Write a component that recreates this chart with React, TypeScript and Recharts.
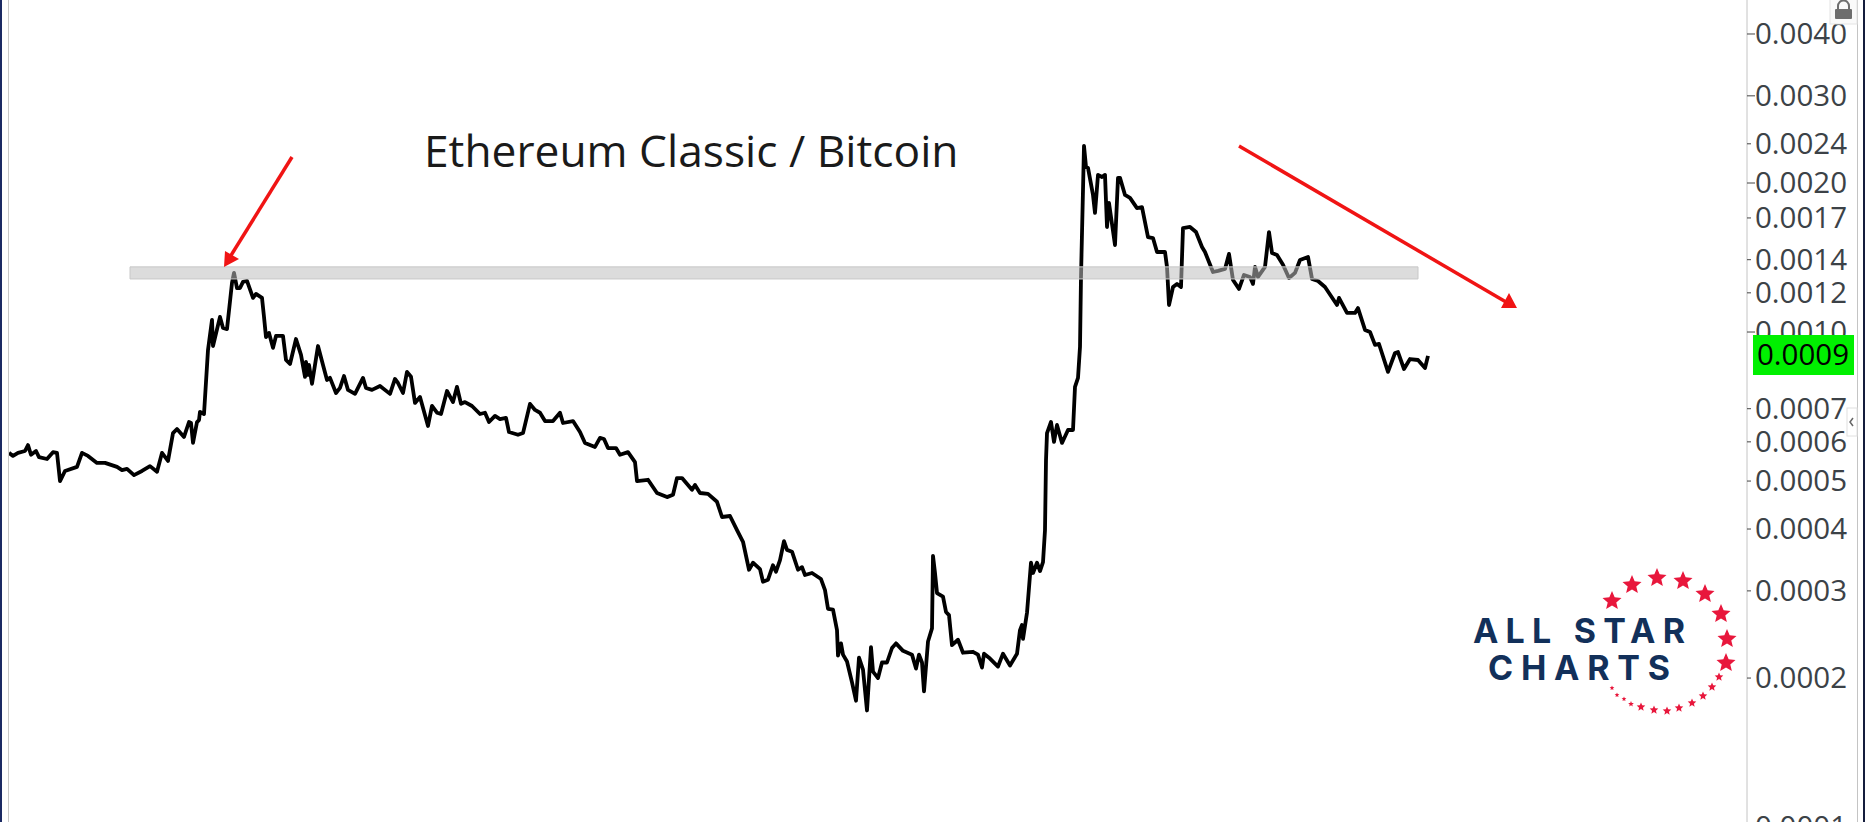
import { LineChart, Line, XAxis, YAxis, ReferenceArea } from 'recharts'

const W = 1865
const H = 860

// sessions and ETC/BTC closes
const sessions = [
  9, 13, 18, 25, 28, 31, 36, 39, 47, 53, 57, 60, 65, 77, 82, 88, 97, 105, 117, 122, 127, 134, 142, 150, 157, 162, 168, 173, 177, 184, 189, 191, 193, 197, 199, 200, 204, 208, 212, 213, 220, 223, 227, 232, 234, 237,
  240, 243, 247, 253, 256, 262, 264, 266, 269, 273, 276, 283, 286, 290, 296, 301, 305, 306, 308, 309, 312, 318, 323, 327, 330, 336, 340, 344, 348, 355, 363, 366, 372, 380, 390, 395, 398, 403, 407, 411, 415, 420, 428, 432, 437, 441, 447, 453, 457, 461, 465, 472, 480, 485, 489, 495, 500, 506, 509, 518, 523, 530, 535,
  540, 545, 553, 560, 563, 573, 580, 585, 595, 600, 604, 608, 616, 620, 628, 635, 637, 648, 657, 667, 673, 677, 682, 692, 695, 700, 708, 717, 722, 730, 737, 743, 749, 753, 760, 763, 768, 773, 776, 780, 784, 787, 792, 798, 802, 805, 812,
  821, 825, 828, 833, 837, 838, 841, 843, 847, 852, 856, 859, 863, 867, 871, 873, 878, 882, 887, 892, 896, 903, 912, 916, 919, 922, 924, 928, 932, 933, 935, 937, 943, 946, 949, 952, 958, 963, 973, 978, 982, 984, 990, 998, 1003, 1010, 1017, 1020, 1022, 1023, 1027, 1031, 1033, 1037, 1040, 1043, 1045, 1046, 1047, 1051, 1054, 1057, 1062, 1068, 1073, 1075, 1078, 1080, 1081,
  1083, 1084, 1086, 1088, 1093, 1095, 1098, 1102, 1105, 1107, 1109, 1115, 1118, 1120, 1125, 1130, 1137, 1142, 1148, 1153, 1157, 1165, 1167, 1169, 1173, 1177, 1181, 1183, 1190, 1196, 1202, 1205, 1213, 1218, 1225, 1229, 1233, 1239, 1244, 1250, 1253, 1255, 1258, 1265, 1269, 1272, 1277, 1283, 1289, 1295, 1300, 1308, 1312, 1318, 1325, 1337, 1339, 1347, 1355, 1358, 1365, 1370, 1375, 1379, 1388, 1395, 1398, 1404, 1410, 1418, 1425, 1428,
]

const ratio = [
  0.00057, 0.000562, 0.00057, 0.000575, 0.000591, 0.000565, 0.000575, 0.000559, 0.000554, 0.000572, 0.00057, 0.0005, 0.000524, 0.000534, 0.00057, 0.000562, 0.000544, 0.000544, 0.000534, 0.000526, 0.000529, 0.000514, 0.000524, 0.000536, 0.000522, 0.00057, 0.000549, 0.000625, 0.000637, 0.000614, 0.000658, 0.000655, 0.000597, 0.000658, 0.000664, 0.00069, 0.000683, 0.00092, 0.001058, 0.000937, 0.001073, 0.001019, 0.001014, 0.001257, 0.001317, 0.001227,
  0.001227, 0.001263, 0.001268, 0.001172, 0.001194, 0.001172, 0.001073, 0.000977, 0.000996, 0.000929, 0.000982, 0.000982, 0.000878, 0.000862, 0.000968, 0.000899, 0.000812, 0.00087, 0.000819, 0.000858, 0.000786, 0.000937, 0.000858, 0.0008, 0.000808, 0.000753, 0.000771, 0.000815, 0.000764, 0.00075, 0.000808, 0.000771, 0.000764, 0.000778, 0.00075, 0.000804, 0.000789, 0.000753, 0.000831, 0.000812, 0.000719, 0.000739, 0.000646, 0.000709, 0.000687, 0.000683, 0.00076, 0.000722, 0.000775, 0.000716, 0.000722, 0.000709, 0.000683, 0.000687, 0.000658, 0.000677, 0.000667, 0.000671, 0.000628, 0.00062, 0.000625, 0.000716, 0.000696,
  0.000687, 0.000661, 0.000661, 0.000687, 0.000655, 0.000661, 0.000628, 0.000597, 0.000586, 0.000611, 0.000608, 0.000583, 0.000583, 0.000565, 0.000572, 0.000546, 0.0005, 0.000503, 0.000473, 0.000464, 0.000469, 0.000507, 0.000507, 0.00048, 0.000491, 0.000473, 0.000471, 0.000454, 0.000423, 0.000425, 0.000398, 0.000377, 0.000331, 0.000342, 0.000332, 0.000313, 0.000316, 0.000338, 0.000328, 0.000346, 0.000378, 0.000363, 0.00036, 0.000331, 0.000335, 0.000323, 0.000326,
  0.000317, 0.000301, 0.000276, 0.000275, 0.00025, 0.000222, 0.000235, 0.000223, 0.000216, 0.000196, 0.00018, 0.00022, 0.000208, 0.000172, 0.000231, 0.000206, 0.0002, 0.000215, 0.000215, 0.00023, 0.000235, 0.000227, 0.000223, 0.000209, 0.000223, 0.000215, 0.000188, 0.000237, 0.000252, 0.000353, 0.000326, 0.000297, 0.000292, 0.000272, 0.000268, 0.000233, 0.000239, 0.000225, 0.000226, 0.000223, 0.00021, 0.000224, 0.000219, 0.000211, 0.000224, 0.000212, 0.000224, 0.00025, 0.000256, 0.00024, 0.000271, 0.000342, 0.000326, 0.000342, 0.000329, 0.000343, 0.000398, 0.000551, 0.000625, 0.000658, 0.0006, 0.000649, 0.000597, 0.000634, 0.000634, 0.000775, 0.000808, 0.000933, 0.001292,
  0.001936, 0.002377, 0.002155, 0.002145, 0.001892, 0.00174, 0.002077, 0.002057, 0.002077, 0.00163, 0.001823, 0.001499, 0.002048, 0.002048, 0.001892, 0.001866, 0.00178, 0.001788, 0.001555, 0.001548, 0.001451, 0.001451, 0.001354, 0.001134, 0.001233, 0.001251, 0.001233, 0.001622, 0.00163, 0.001592, 0.001485, 0.001451, 0.001322, 0.001329, 0.001341, 0.001438, 0.001274, 0.001222, 0.001304, 0.001292, 0.001251, 0.001354, 0.001292, 0.001354, 0.001592, 0.001445, 0.001431, 0.001367, 0.001286, 0.001317, 0.001398, 0.001418, 0.00128, 0.001268, 0.001233, 0.001134, 0.001172, 0.001093, 0.001093, 0.001118, 0.00101, 0.001, 0.000942, 0.000946, 0.000831, 0.000907, 0.000911, 0.000842, 0.000882, 0.000878, 0.000846, 0.000895,
]

const axisTicks = [0.004, 0.003, 0.0024, 0.002, 0.0017, 0.0014, 0.0012, 0.001, 0.0007, 0.0006, 0.0005, 0.0004, 0.0003, 0.0002, 0.0001]
const majorTicks = [0.004, 0.003, 0.002, 0.001]

const chartData = sessions.map((session, i) => ({ session, ratio: ratio[i] }))

// logo stars: cx, cy, outer radius
const logoStars = [
  [1612, 601, 10], [1632, 585, 10], [1657, 578, 10], [1683, 581, 10], [1705, 594, 10], [1721, 614, 10], [1727, 639, 10], [1726, 663, 10],
  [1719, 677, 4.5], [1712, 687, 4.5], [1703, 696, 4.5], [1692, 703, 4.5], [1679, 708, 4.5], [1667, 711, 4.5], [1654, 710, 4.5], [1641, 707, 4.5],
  [1631, 704, 3], [1624, 699, 2.5], [1617, 695, 2.5], [1612, 688, 2.5],
]

function starPoints(cx: number, cy: number, r: number) {
  const pts: string[] = []
  for (let i = 0; i < 10; i++) {
    const a = -Math.PI / 2 + (i * Math.PI) / 5
    const rr = i % 2 === 0 ? r : r * 0.45
    pts.push(`${cx + rr * Math.cos(a)},${cy + rr * Math.sin(a)}`)
  }
  return pts.join(' ')
}

function PriceTick({ x, y, payload }: any) {
  const long = majorTicks.includes(payload.value)
  return (
    <g>
      <line x1={1747} x2={long ? 1755 : 1751} y1={y} y2={y} stroke="#444" />
      <text x={x} y={y} dy={10} fontSize={29.5} fontFamily="'Open Sans'" fill="#3c4247">
        {payload.value.toFixed(4)}
      </text>
    </g>
  )
}

export default function App() {
  return (
    <div style={{ position: 'absolute', left: 0, top: 0, width: W, height: 822, overflow: 'hidden', background: '#fff' }}>
      <LineChart width={W} height={H} data={chartData} margin={{ top: 0, right: 0, bottom: 0, left: 0 }}>
        <XAxis dataKey="session" type="number" domain={[0, 1747]} hide />
        <YAxis
          orientation="right"
          width={118}
          scale="log"
          domain={[0.0000858, 0.004685]}
          ticks={axisTicks}
          interval={0}
          tick={<PriceTick />}
          tickLine={false}
          tickSize={8}
          tickMargin={0}
          axisLine={{ stroke: '#c4c4c4' }}
          allowDataOverflow
        />
        <Line
          dataKey="ratio"
          type="linear"
          stroke="#000"
          strokeWidth={3.8}
          strokeLinejoin="round"
          dot={false}
          isAnimationActive={false}
        />
        <ReferenceArea
          x1={130}
          x2={1418}
          y1={0.001354}
          y2={0.00128}
          fill="rgb(190,190,190)"
          fillOpacity={0.54}
          stroke="#c8c8c8"
          zIndex={700}
        />
      </LineChart>

      <svg width={W} height={822} style={{ position: 'absolute', left: 0, top: 0 }}>
        {/* window frame */}
        <rect x={0} y={0} width={2} height={822} fill="#1b2a63" />
        <line x1={8.5} x2={8.5} y1={0} y2={822} stroke="#c8c8c8" />
        <line x1={1857.5} x2={1857.5} y1={0} y2={822} stroke="#c4c4c4" />
        <rect x={1863} y={0} width={2} height={822} fill="#141c3c" />

        <text x={424} y={167} fontSize={44.3} fontFamily="'Open Sans'" fill="#1a1a1a">
          Ethereum Classic / Bitcoin
        </text>

        {/* arrows */}
        <line x1={292} y1={157} x2={230} y2={257} stroke="#f01414" strokeWidth={3.5} />
        <polygon points="224,267 225,251 239,259" fill="#f01414" />
        <line x1={1239} y1={146} x2={1506} y2={302} stroke="#f01414" strokeWidth={3.5} />
        <polygon points="1509,293 1501,308 1517,308" fill="#f01414" />

        {/* last price */}
        <rect x={1753} y={335} width={101} height={40} fill="#00f000" />
        <text x={1757} y={365} fontSize={29.5} fontFamily="'Open Sans'" fill="#000">0.0009</text>

        {/* lock and collapse handle */}
        <rect x={1830} y={-1} width={27} height={25} fill="#fafafa" stroke="#e4e4e4" />
        <path d="M1838 9 v-3 a5.5 5.5 0 0 1 11 0 v3" fill="none" stroke="#6e6e6e" strokeWidth={2} />
        <rect x={1835} y={9} width={17} height={10} rx={1} fill="#6e6e6e" />
        <rect x={1847} y={408} width={10} height={28} fill="#fff" stroke="#e0e0e0" />
        <path d="M1853 418 l-3 4 l3 4" fill="none" stroke="#666" strokeWidth={1.5} />

        {/* logo */}
        <text x={1473} y={643} fontSize={34} fontWeight={700} fontFamily="Inter" fill="#12305a" textLength={212}>ALL STAR</text>
        <text x={1488} y={680} fontSize={34} fontWeight={700} fontFamily="Inter" fill="#12305a" textLength={182}>CHARTS</text>
        {logoStars.map(([cx, cy, r], i) => (
          <polygon key={i} points={starPoints(cx, cy, r)} fill="#e8173c" />
        ))}
      </svg>
    </div>
  )
}
